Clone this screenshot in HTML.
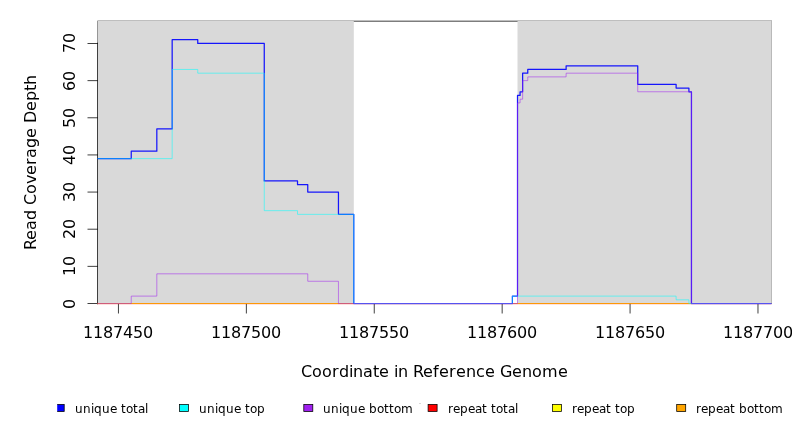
<!DOCTYPE html>
<html><head><meta charset="utf-8"><title>Read Coverage Depth</title>
<style>html,body{margin:0;padding:0;background:#fff}svg{display:block}text{font-family:"DejaVu Sans","Liberation Sans",sans-serif;fill:#000}</style></head>
<body>
<svg width="792" height="432" viewBox="0 0 792 432">
<rect width="792" height="432" fill="#fff"/>
<defs><clipPath id="c"><rect x="97.60" y="20.30" width="673.90" height="284.10"/></clipPath><clipPath id="lc"><rect x="57.2" y="390" width="740" height="42"/></clipPath></defs>
<line x1="340.00" y1="21.3" x2="530.00" y2="21.3" stroke="#7d7d7d" stroke-width="1.5"/>
<rect x="98" y="20" width="255.80" height="283.90" fill="#d9d9d9"/>
<rect x="517.51" y="20" width="253.49" height="283.90" fill="#d9d9d9"/>
<rect x="98" y="20" width="674" height="1" fill="#bebebe"/>
<rect x="97" y="20" width="1" height="1" fill="#d6d6d6"/>
<rect x="97" y="21" width="1" height="22" fill="#969696"/>
<rect x="771" y="21" width="1" height="283" fill="#b9b9b9"/>
<path d="M97.50,303.88 V43.12" stroke="#000" stroke-width="0.75" fill="none" stroke-linecap="round"/>
<path d="M97.50,303.50 H87.90" stroke="#000" stroke-width="0.75" fill="none" stroke-linecap="round"/>
<path d="M97.50,266.36 H87.90" stroke="#000" stroke-width="0.75" fill="none" stroke-linecap="round"/>
<path d="M97.50,229.21 H87.90" stroke="#000" stroke-width="0.75" fill="none" stroke-linecap="round"/>
<path d="M97.50,192.07 H87.90" stroke="#000" stroke-width="0.75" fill="none" stroke-linecap="round"/>
<path d="M97.50,154.93 H87.90" stroke="#000" stroke-width="0.75" fill="none" stroke-linecap="round"/>
<path d="M97.50,117.78 H87.90" stroke="#000" stroke-width="0.75" fill="none" stroke-linecap="round"/>
<path d="M97.50,80.64 H87.90" stroke="#000" stroke-width="0.75" fill="none" stroke-linecap="round"/>
<path d="M97.50,43.50 H87.90" stroke="#000" stroke-width="0.75" fill="none" stroke-linecap="round"/>
<path d="M118.45,303.50 V313.10" stroke="#000" stroke-width="0.75" fill="none" stroke-linecap="round"/>
<text font-size="16" x="83.00 93.00 103.00 113.00 123.00 133.00 143.00" y="338.00">1187450</text>
<path d="M246.36,303.50 V313.10" stroke="#000" stroke-width="0.75" fill="none" stroke-linecap="round"/>
<text font-size="16" x="211.00 221.00 231.00 241.00 251.00 261.00 271.00" y="338.00">1187500</text>
<path d="M374.26,303.50 V313.10" stroke="#000" stroke-width="0.75" fill="none" stroke-linecap="round"/>
<text font-size="16" x="339.00 349.00 359.00 369.00 379.00 389.00 399.00" y="338.00">1187550</text>
<path d="M502.17,303.50 V313.10" stroke="#000" stroke-width="0.75" fill="none" stroke-linecap="round"/>
<text font-size="16" x="467.00 477.00 487.00 497.00 507.00 517.00 527.00" y="338.00">1187600</text>
<path d="M630.07,303.50 V313.10" stroke="#000" stroke-width="0.75" fill="none" stroke-linecap="round"/>
<text font-size="16" x="595.00 605.00 615.00 625.00 635.00 645.00 655.00" y="338.00">1187650</text>
<path d="M757.98,303.50 V313.10" stroke="#000" stroke-width="0.75" fill="none" stroke-linecap="round"/>
<text font-size="16" x="723.00 733.00 743.00 753.00 763.00 773.00 783.00" y="338.00">1187700</text>
<text transform="translate(74.90,303.50) rotate(-90)" font-size="16" x="-5.50" y="0">0</text>
<text transform="translate(74.90,266.36) rotate(-90)" font-size="16" x="-9.64 0.36" y="0">10</text>
<text transform="translate(74.90,229.21) rotate(-90)" font-size="16" x="-9.79 0.21" y="0">20</text>
<text transform="translate(74.90,192.07) rotate(-90)" font-size="16" x="-9.93 0.07" y="0">30</text>
<text transform="translate(74.90,154.93) rotate(-90)" font-size="16" x="-10.07 -0.07" y="0">40</text>
<text transform="translate(74.90,117.78) rotate(-90)" font-size="16" x="-10.22 -0.22" y="0">50</text>
<text transform="translate(74.90,80.64) rotate(-90)" font-size="16" x="-10.36 -0.36" y="0">60</text>
<text transform="translate(74.90,43.50) rotate(-90)" font-size="16" x="-9.50 0.50" y="0">70</text>
<text font-size="16" x="301.00 312.00 322.00 332.00 339.00 349.00 353.00 363.00 373.00 379.00 389.00 394.00 398.00 408.00 413.00 423.00 433.00 439.00 449.00 456.00 466.00 476.00 485.00 495.00 500.00 512.00 522.00 532.00 542.00 558.00" y="376.50">Coordinate in Reference Genome</text>
<text transform="translate(35.80,162.00) rotate(-90)" font-size="16" x="-88.00 -78.00 -68.00 -58.00 -48.00 -43.00 -32.00 -22.00 -13.00 -3.00 4.00 14.00 24.00 34.00 39.00 51.00 61.00 71.00 77.00" y="0">Read Coverage Depth</text>
<g clip-path="url(#c)" fill="none" stroke-linejoin="round" stroke-linecap="round">
<path d="M92.87,303.55 L778.44,303.55" stroke="#ff0000" stroke-opacity="0.86" stroke-width="1.25"/>
<path d="M92.87,303.55 L778.44,303.55" stroke="#ffff00" stroke-opacity="0.7" stroke-width="0.75"/>
<path d="M92.87,303.55 L778.44,303.55" stroke="#ffa500" stroke-opacity="0.7" stroke-width="0.75"/>
<path d="M92.87,158.64 L131.24,158.64 L131.24,151.21 L156.82,151.21 L156.82,128.91 L172.17,128.91 L172.17,39.74 L197.75,39.74 L197.75,43.45 L264.26,43.45 L264.26,180.93 L297.52,180.93 L297.52,184.65 L307.75,184.65 L307.75,192.08 L338.45,192.08 L338.45,214.37 L353.80,214.37 L353.80,303.55 L512.40,303.55 L512.40,296.12 L517.51,296.12 L517.51,95.47 L520.07,95.47 L520.07,91.76 L522.63,91.76 L522.63,73.18 L527.75,73.18 L527.75,69.46 L566.12,69.46 L566.12,65.75 L637.74,65.75 L637.74,84.32 L676.12,84.32 L676.12,88.04 L688.91,88.04 L688.91,91.76 L691.46,91.76 L691.46,303.55 L778.44,303.55" stroke="#0000ff" stroke-opacity="0.9" stroke-width="1.25"/>
<path d="M92.87,158.64 L172.17,158.64 L172.17,69.46 L197.75,69.46 L197.75,73.18 L264.26,73.18 L264.26,210.66 L297.52,210.66 L297.52,214.37 L353.80,214.37 L353.80,303.55 L512.40,303.55 L512.40,296.12 L676.12,296.12 L676.12,299.83 L688.91,299.83 L688.91,303.55 L778.44,303.55" stroke="#00ffff" stroke-opacity="0.7" stroke-width="0.75"/>
<path d="M92.87,303.55 L131.24,303.55 L131.24,296.12 L156.82,296.12 L156.82,273.82 L307.75,273.82 L307.75,281.26 L338.45,281.26 L338.45,303.55 L517.51,303.55 L517.51,102.90 L520.07,102.90 L520.07,99.19 L522.63,99.19 L522.63,80.61 L527.75,80.61 L527.75,76.89 L566.12,76.89 L566.12,73.18 L637.74,73.18 L637.74,91.76 L691.46,91.76 L691.46,303.55 L778.44,303.55" stroke="#a020f0" stroke-opacity="0.7" stroke-width="0.75"/>
</g>
<rect x="55.20" y="404.4" width="9.0" height="7.1" fill="#0000ff" stroke="#000" stroke-width="0.75" clip-path="url(#lc)"/>
<text font-size="12" x="75.00 83.00 91.00 94.00 102.00 110.00 117.00 121.00 126.00 133.00 138.00 145.00" y="412.80">unique total</text>
<rect x="179.50" y="404.4" width="9.0" height="7.1" fill="#00ffff" stroke="#000" stroke-width="0.75" clip-path="url(#lc)"/>
<text font-size="12" x="199.00 207.00 215.00 218.00 226.00 234.00 241.00 245.00 250.00 257.00" y="412.80">unique top</text>
<rect x="303.80" y="404.4" width="9.0" height="7.1" fill="#a020f0" stroke="#000" stroke-width="0.75" clip-path="url(#lc)"/>
<text font-size="12" x="323.00 331.00 339.00 342.00 350.00 358.00 365.00 369.00 377.00 384.00 389.00 394.00 401.00" y="412.80">unique bottom</text>
<rect x="428.10" y="404.4" width="9.0" height="7.1" fill="#ff0000" stroke="#000" stroke-width="0.75" clip-path="url(#lc)"/>
<text font-size="12" x="448.00 453.00 460.00 468.00 475.00 482.00 487.00 491.00 496.00 503.00 508.00 515.00" y="412.80">repeat total</text>
<rect x="552.40" y="404.4" width="9.0" height="7.1" fill="#ffff00" stroke="#000" stroke-width="0.75" clip-path="url(#lc)"/>
<text font-size="12" x="572.00 577.00 584.00 592.00 599.00 606.00 611.00 615.00 620.00 627.00" y="412.80">repeat top</text>
<rect x="676.70" y="404.4" width="9.0" height="7.1" fill="#ffa500" stroke="#000" stroke-width="0.75" clip-path="url(#lc)"/>
<text font-size="12" x="696.00 701.00 708.00 716.00 723.00 730.00 735.00 739.00 747.00 754.00 759.00 764.00 771.00" y="412.80">repeat bottom</text>
<rect x="419" y="403" width="2" height="1" fill="#d9d9d9"/>
</svg>
</body></html>
